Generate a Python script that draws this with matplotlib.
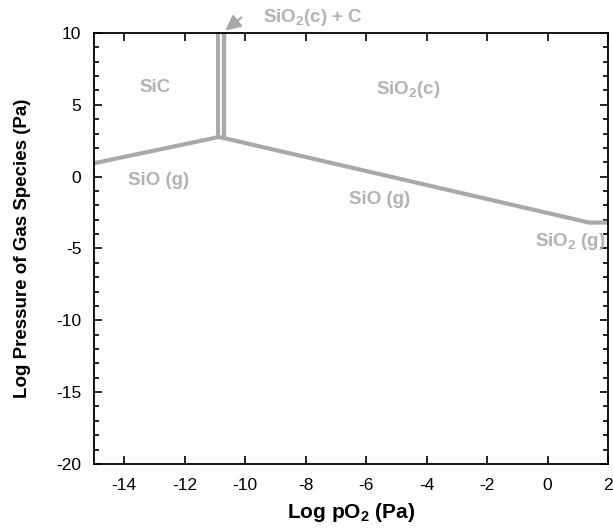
import matplotlib
matplotlib.use("Agg")
import matplotlib.pyplot as plt
from matplotlib.ticker import MultipleLocator

plt.rcParams['font.family'] = ['Liberation Sans', 'DejaVu Sans']
plt.rcParams['mathtext.fontset'] = 'custom'
plt.rcParams['mathtext.rm'] = 'Liberation Sans'
plt.rcParams['mathtext.bf'] = 'Liberation Sans:bold'
plt.rcParams['axes.unicode_minus'] = False

# Boundary lines (log pO2, log p)
sic_sio_x = [-15.0, -10.86]
sic_sio_y = [0.93, 2.76]
sio_sio2_x = [-10.86, 1.37, 2.0]
sio_sio2_y = [2.76, -3.2, -3.2]
vert1_x = [-10.90, -10.90]
vert1_y = [2.76, 10.1]
vert2_x = [-10.71, -10.71]
vert2_y = [2.7, 10.1]

gray = '#a9a9ac'
tgray = '#b3b3b5'

fig = plt.figure(figsize=(6.13, 5.32), dpi=100)
ax = fig.add_axes([0.153, 0.128, 0.839, 0.81])

ax.plot(sic_sio_x, sic_sio_y, color=gray, lw=3.0, solid_capstyle='butt', clip_on=False)
ax.plot(sio_sio2_x, sio_sio2_y, color=gray, lw=3.0, solid_capstyle='butt', clip_on=False)
ax.plot(vert1_x, vert1_y, color=gray, lw=2.8, solid_capstyle='butt', clip_on=False)
ax.plot(vert2_x, vert2_y, color=gray, lw=3.2, solid_capstyle='butt', clip_on=False)

ax.set_xlim(-15, 2)
ax.set_ylim(-20, 10)
ax.xaxis.set_major_locator(MultipleLocator(2))
ax.yaxis.set_major_locator(MultipleLocator(5))
ax.yaxis.set_minor_locator(MultipleLocator(1))
ax.tick_params(which='both', direction='in', top=True, right=True, labelsize=12.5, width=1.2)
ax.tick_params(which='major', length=6)
ax.tick_params(which='minor', length=3.5)
ax.tick_params(axis='x', pad=10)
ax.tick_params(axis='y', pad=9)
for s in ax.spines.values():
    s.set_linewidth(1.3)

tkw = dict(color=tgray, fontsize=13.5, fontweight='bold', ha='center', va='center')
ax.text(-12.97, 6.17, 'SiC', **tkw)
ax.text(-4.6, 6.1, r'SiO$_\mathbf{2}$(c)', **tkw)
ax.text(-12.85, -0.3, 'SiO (g)', **tkw)
ax.text(-5.55, -1.6, 'SiO (g)', **tkw)
ax.text(0.75, -4.55, r'SiO$_\mathbf{2}$ (g)', **tkw)
ax.text(-7.75, 11.05, r'SiO$_\mathbf{2}$(c) + C', clip_on=False, **tkw)
ax.annotate('', xy=(-10.72, 10.05), xytext=(-10.05, 11.2), annotation_clip=False,
            arrowprops=dict(arrowstyle='-|>,head_length=0.9,head_width=0.45', color=gray, lw=1.6))

ax.set_xlabel(r'Log pO$_\mathbf{2}$ (Pa)', fontsize=15, fontweight='bold', labelpad=6)
ax.set_ylabel('Log Pressure of Gas Species (Pa)', fontsize=13.5, fontweight='bold', labelpad=18)

fig.savefig('out.png', dpi=100)
